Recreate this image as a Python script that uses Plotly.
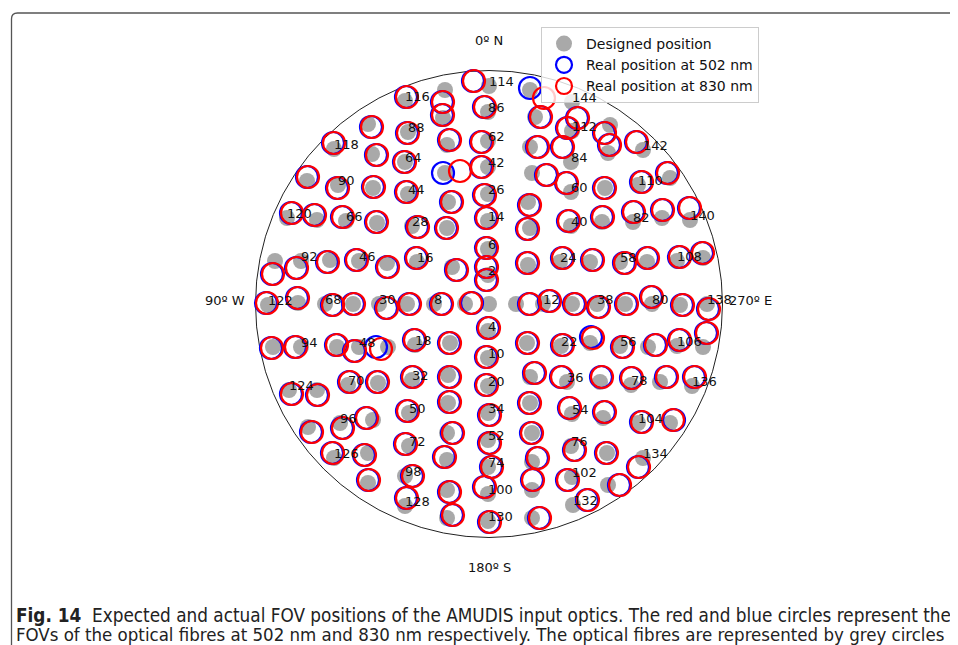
import plotly.graph_objects as go

# ---- fibre data (positions in the plot's own units: x to the right, y downward) ----
# groups (one line each) follow the columns of fibres from the west side to the east side
designed_x = [
    268, 275, 273, 287, 289,
    307, 317, 301, 298, 301, 317, 308, 340, 334, 368, 373, 368,
    334, 338, 346, 368, 372, 373, 377, 330, 359, 387, 325, 353, 379, 337, 359, 388, 348, 378,
    405, 408, 405, 408, 412, 417, 407, 415, 412, 409, 409, 405, 405,
    445, 443, 447, 445, 448, 447, 452, 434, 465, 450, 448, 448, 447, 447, 447, 447,
    489, 488, 488, 488, 488, 488, 488, 488, 489, 488, 488, 488, 488, 488, 488, 488, 488,
    530, 535, 530, 532, 528, 530, 528, 516, 543, 527, 530, 530, 532, 532, 532, 532,
    572, 572, 571, 571, 571, 560, 572, 561, 567, 572, 571, 572, 573,
    610, 608, 605, 602, 590, 597, 590, 600, 603, 607, 608,
    643, 638, 633, 620, 625, 620, 631, 638, 643,
    670, 662, 647, 652, 648, 660, 670,
    690, 677, 703, 680, 707, 677, 703, 692,
]
designed_y = [
    305, 261, 347, 218, 390,
    181, 220, 261, 303, 347, 390, 427, 423, 458, 453, 420, 483,
    149, 185, 221, 124, 154, 188, 223, 260, 261, 263, 304, 304, 304, 347, 347, 347, 385, 383,
    101, 132, 162, 194, 226, 262, 304, 345, 380, 413, 446, 476, 506,
    90, 118, 145, 173, 202, 228, 267, 304, 304, 343, 375, 403, 433, 460, 490, 518,
    86, 112, 141, 167, 194, 221, 249, 275, 304, 331, 358, 386, 413, 440, 467, 494, 521,
    90, 117, 147, 173, 202, 228, 265, 304, 304, 343, 377, 403, 433, 462, 490, 518,
    102, 131, 162, 192, 226, 262, 304, 346, 382, 414, 446, 477, 505,
    125, 153, 188, 222, 262, 304, 343, 382, 418, 453, 485,
    150, 185, 222, 262, 304, 346, 385, 423, 458,
    178, 218, 262, 304, 347, 382, 423,
    220, 261, 258, 305, 304, 346, 347, 386,
]
blue_x = [
    266, 272, 271, 291, 291,
    307, 314, 296, 297, 295, 317, 311, 342, 332, 364, 366, 368,
    333, 337, 342, 371, 376, 373, 376, 327, 356, 387, 332, 353, 386, 336, 354, 376, 349, 377,
    406, 407, 404, 406, 417, 416, 409, 414, 412, 407, 405, 412, 406,
    442, 442, 449, 443, 451, 446, 456, 441, 472, 449, 449, 449, 452, 444, 449, 452,
    473, 484, 481, 481, 484, 486, 486, 486, 486, 488, 486, 486, 489, 489, 491, 484, 489,
    530, 540, 537, 546, 529, 527, 527, 529, 549, 527, 534, 529, 531, 537, 532, 539,
    577, 567, 562, 566, 568, 562, 574, 562, 561, 569, 574, 567, 587,
    604, 609, 604, 602, 592, 598, 591, 601, 604, 606, 619,
    636, 641, 633, 624, 626, 622, 631, 641, 638,
    667, 662, 647, 651, 655, 666, 674,
    689, 679, 702, 682, 708, 679, 706, 694,
]
blue_y = [
    303, 274, 348, 213, 394,
    177, 215, 268, 298, 347, 395, 432, 428, 453, 455, 418, 480,
    143, 188, 217, 127, 155, 187, 222, 262, 260, 267, 305, 304, 308, 345, 351, 347, 382, 382,
    97, 133, 162, 192, 227, 258, 304, 340, 377, 411, 444, 476, 498,
    102, 115, 140, 173, 202, 228, 270, 304, 303, 343, 377, 402, 433, 457, 492, 515,
    81, 107, 142, 167, 195, 218, 248, 267, 280, 328, 357, 385, 415, 443, 467, 487, 522,
    88, 117, 147, 175, 205, 229, 263, 304, 301, 343, 373, 403, 433, 458, 480, 518,
    118, 128, 147, 183, 221, 258, 304, 345, 377, 408, 450, 480, 500,
    133, 145, 188, 217, 260, 307, 337, 377, 412, 453, 485,
    142, 182, 212, 263, 304, 347, 378, 422, 467,
    173, 210, 258, 297, 345, 377, 420,
    208, 257, 253, 305, 309, 340, 333, 377,
]
red_x = [
    267, 273, 272, 292, 292,
    308, 315, 297, 298, 296, 318, 312, 343, 333, 365, 367, 369,
    334, 338, 343, 372, 377, 374, 377, 328, 357, 388, 333, 354, 387, 337, 355, 381, 350, 378,
    407, 408, 405, 407, 418, 417, 410, 415, 413, 408, 406, 413, 407,
    443, 443, 450, 460, 452, 447, 457, 442, 471, 450, 450, 450, 453, 445, 450, 453,
    474, 485, 482, 482, 485, 487, 487, 487, 487, 489, 487, 487, 490, 490, 492, 485, 490,
    544, 541, 538, 547, 530, 528, 528, 530, 550, 528, 535, 530, 532, 538, 533, 540,
    578, 568, 563, 567, 569, 563, 575, 563, 562, 570, 575, 568, 588,
    605, 610, 605, 603, 593, 599, 593, 602, 605, 607, 620,
    637, 642, 634, 625, 627, 623, 632, 642, 639,
    668, 663, 648, 652, 656, 667, 673,
    690, 680, 703, 683, 709, 680, 707, 695,
]
red_y = [
    303, 274, 348, 213, 394,
    177, 215, 268, 298, 347, 395, 432, 428, 453, 455, 418, 480,
    143, 188, 217, 127, 155, 187, 222, 262, 260, 267, 305, 304, 308, 345, 351, 349, 382, 382,
    97, 133, 162, 192, 227, 258, 304, 340, 377, 411, 444, 476, 498,
    102, 115, 140, 171, 202, 228, 270, 304, 303, 343, 377, 402, 433, 457, 492, 515,
    81, 107, 142, 167, 195, 218, 248, 267, 280, 328, 357, 385, 415, 443, 467, 487, 522,
    98, 117, 147, 175, 205, 229, 263, 304, 301, 343, 373, 403, 433, 458, 480, 518,
    118, 128, 147, 183, 221, 258, 304, 345, 377, 408, 450, 480, 500,
    133, 145, 188, 217, 260, 307, 338, 377, 412, 453, 485,
    142, 182, 212, 263, 304, 347, 378, 422, 467,
    173, 210, 258, 297, 345, 377, 420,
    208, 257, 253, 305, 309, 340, 333, 377,
]
fibre_labels = [
    "122", "", "", "120", "124",
    "", "", "92", "", "94", "", "", "96", "126", "", "", "",
    "118", "90", "66", "", "", "", "", "", "46", "", "68", "", "30", "", "48", "", "70", "",
    "116", "88", "64", "44", "28", "16", "", "18", "32", "50", "72", "98", "128",
    "", "", "", "", "", "", "", "8", "", "", "", "", "", "", "", "",
    "114", "86", "62", "42", "26", "14", "6", "2", "", "4", "10", "20", "34", "52", "74", "100", "130",
    "", "", "", "", "", "", "", "", "12", "", "", "", "", "", "", "",
    "144", "112", "84", "60", "40", "24", "", "22", "36", "54", "76", "102", "132",
    "", "", "", "", "", "38", "", "", "", "", "",
    "142", "110", "82", "58", "", "56", "78", "104", "134",
    "", "", "", "80", "", "", "",
    "140", "108", "", "", "138", "106", "", "136",
]
n = len(designed_x)
assert all(len(a) == n for a in (designed_y, blue_x, blue_y, red_x, red_y, fibre_labels)), \
    [len(a) for a in (designed_x, designed_y, blue_x, blue_y, red_x, red_y, fibre_labels)]

direction_labels = ["0º N", "90º W", "180º S", "270º E"]
legend_names = ["Designed position", "Real position at 502 nm", "Real position at 830 nm"]
caption_bold = "Fig. 14"
caption_line1 = "Expected and actual FOV positions of the AMUDIS input optics. The red and blue circles represent the"
caption_line2 = "FOVs of the optical fibres at 502 nm and 830 nm respectively. The optical fibres are represented by grey circles"

# ---- layout constants ----
# the page body keeps an 8 px margin, so the figure is 8 px smaller than the window
# and the axis ranges start at 8 to keep one unit = one window pixel
PAD = 8
W, H = 958 - PAD, 645 - PAD
CX, CY, R = 489, 304, 233.5
FONT = "DejaVu Sans"
CAP_FONT = "DejaVu Sans Condensed, Liberation Sans Narrow, Roboto"

fig = go.Figure()
fig.add_trace(go.Scatter(x=designed_x, y=designed_y, mode="markers", name=legend_names[0],
                         marker=dict(size=16, color="#a9a9a9", line=dict(width=0)), hoverinfo="skip"))
fig.add_trace(go.Scatter(x=blue_x, y=blue_y, mode="markers", name=legend_names[1],
                         marker=dict(symbol="circle-open", size=22, color="#0000ff", line=dict(width=2.2)),
                         hoverinfo="skip"))
fig.add_trace(go.Scatter(x=red_x, y=red_y, mode="markers", name=legend_names[2],
                         marker=dict(symbol="circle-open", size=22, color="#ff0000", line=dict(width=2.2)),
                         hoverinfo="skip"))

for x, y, t in zip(designed_x, designed_y, fibre_labels):
    if t:
        fig.add_annotation(x=x - 2.5, y=y - 4.6, text=t, showarrow=False, xanchor="left", yanchor="middle",
                           font=dict(family=FONT, size=13, color="#111111"))

# outer circle of the polar frame
fig.add_shape(type="circle", x0=CX - R, x1=CX + R, y0=CY - R, y1=CY + R,
              line=dict(color="#222222", width=1), layer="below")

# direction labels
dir_font = dict(family=FONT, size=13, color="#111111")
fig.add_annotation(x=CX, y=CY - R - 30, text=direction_labels[0], showarrow=False,
                   xanchor="center", yanchor="middle", font=dir_font)
fig.add_annotation(x=CX - R - 9, y=CY - 4, text=direction_labels[1], showarrow=False,
                   xanchor="right", yanchor="middle", font=dir_font)
fig.add_annotation(x=CX, y=CY + R + 30, text=direction_labels[2], showarrow=False,
                   xanchor="center", yanchor="middle", font=dir_font)
fig.add_annotation(x=CX + R + 4, y=CY - 4, text=direction_labels[3], showarrow=False,
                   xanchor="left", yanchor="middle", font=dir_font)

# caption
fig.add_annotation(x=14, y=615.5, text="<b>" + caption_bold + "</b>  " + caption_line1, showarrow=False,
                   xanchor="left", yanchor="middle", align="left",
                   font=dict(family=CAP_FONT, size=18.8, color="#222222"))
fig.add_annotation(x=14, y=634.5, text=caption_line2, showarrow=False,
                   xanchor="left", yanchor="middle", align="left",
                   font=dict(family=CAP_FONT, size=18.5, color="#222222"))

# page frame (rounded top-left corner; the right edge lies beyond the window)
fig.add_shape(type="path",
              path="M 11.5 660 L 11.5 19 Q 11.5 13 17.5 13 L 975 13",
              line=dict(color="#555555", width=1.3))

fig.update_layout(
    width=W, height=H, margin=dict(l=0, r=0, t=0, b=0),
    paper_bgcolor="white", plot_bgcolor="white",
    xaxis=dict(range=[PAD, PAD + W], visible=False, fixedrange=True),
    yaxis=dict(range=[PAD + H, PAD], visible=False, fixedrange=True),
    showlegend=True,
    legend=dict(x=(541 - PAD) / W, y=1 - (27 - PAD) / H, xanchor="left", yanchor="top",
                bgcolor="rgba(255,255,255,0.8)", bordercolor="#cccccc", borderwidth=1,
                font=dict(family=FONT, size=14, color="#111111"), itemsizing="trace",
                itemwidth=34),
)

fig.write_html("out.html")
